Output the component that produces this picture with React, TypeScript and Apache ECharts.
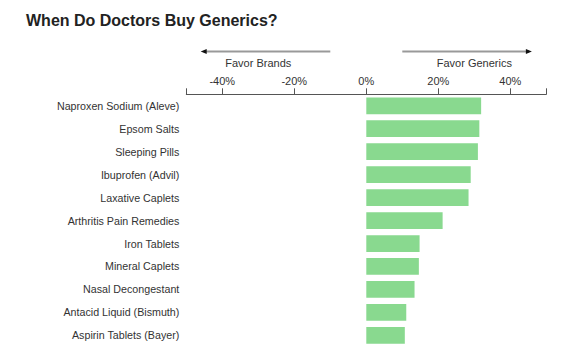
import React, { useEffect, useRef } from "react";
import * as echarts from "echarts";

const title = "When Do Doctors Buy Generics?";
const categories = [
  "Naproxen Sodium (Aleve)",
  "Epsom Salts",
  "Sleeping Pills",
  "Ibuprofen (Advil)",
  "Laxative Caplets",
  "Arthritis Pain Remedies",
  "Iron Tablets",
  "Mineral Caplets",
  "Nasal Decongestant",
  "Antacid Liquid (Bismuth)",
  "Aspirin Tablets (Bayer)",
];
const values = [31.9, 31.4, 31.0, 29.0, 28.4, 21.2, 14.8, 14.6, 13.4, 11.1, 10.7];
const tickValues = [-50, -40, -20, 0, 20, 40, 50];
const labelValues = [-40, -20, 0, 20, 40];
const axisMin = -50;
const axisMax = 50;
const annotations = [
  { text: "Favor Brands", from: -10, to: -46, center: -30 },
  { text: "Favor Generics", from: 10, to: 46, center: 30 },
];

const FONT = "'Liberation Sans', Arial, Helvetica, sans-serif";

export default function App() {
  const ref = useRef<HTMLDivElement>(null);
  useEffect(() => {
    if (!ref.current) return;
    const chart = echarts.init(ref.current, undefined, { renderer: "svg" });
    chart.setOption({
      animation: false,
      backgroundColor: "#ffffff",
      title: {
        text: title,
        left: 26,
        top: 12,
        padding: 0,
        textStyle: { fontFamily: FONT, fontSize: 16, fontWeight: "bold", color: "#222" },
      },
      grid: { left: 186.3, right: 25.7, top: 94.3, bottom: 5.2, containLabel: false },
      xAxis: {
        type: "value",
        position: "top",
        min: axisMin,
        max: axisMax,
        axisLine: { show: true, lineStyle: { color: "#555", width: 1 } },
        axisTick: { show: true, length: 6, customValues: tickValues, lineStyle: { color: "#555" } },
        axisLabel: {
          customValues: labelValues,
          formatter: (v: number) => `${v}%`,
          color: "#333",
          fontFamily: FONT,
          fontSize: 11,
          margin: 8,
        },
        splitLine: { show: false },
      },
      yAxis: {
        type: "category",
        inverse: true,
        data: categories,
        axisLine: { show: false },
        axisTick: { show: false },
        axisLabel: { color: "#333", fontFamily: FONT, fontSize: 10.7, margin: 7 },
        splitLine: { show: false },
      },
      series: [
        {
          type: "bar",
          data: values,
          barCategoryGap: "27%",
          itemStyle: { color: "#89d98f" },
        },
      ],
    });

    const px = (v: number) => chart.convertToPixel({ xAxisIndex: 0 }, v) as number;
    const arrowY = 51.5;
    const graphics: any[] = [];
    annotations.forEach((a) => {
      const x1 = px(a.from);
      const x2 = px(a.to);
      const dir = x2 > x1 ? 1 : -1;
      graphics.push({
        type: "line",
        shape: { x1, y1: arrowY, x2: x2 - dir * 3, y2: arrowY },
        style: { stroke: "#999", lineWidth: 2 },
      });
      graphics.push({
        type: "polygon",
        shape: {
          points: [
            [x2, arrowY],
            [x2 - dir * 6, arrowY - 2.5],
            [x2 - dir * 6, arrowY + 2.5],
          ],
        },
        style: { fill: "#111" },
      });
      graphics.push({
        type: "text",
        x: px(a.center),
        y: 63,
        style: {
          text: a.text,
          align: "center",
          verticalAlign: "middle",
          fontFamily: FONT,
          fontSize: 11,
          fill: "#333",
        },
      });
    });
    chart.setOption({ graphic: graphics });
    return () => chart.dispose();
  }, []);
  return (
    <div
      ref={ref}
      style={{ position: "fixed", left: 0, top: 0, width: 572, height: 352 }}
    />
  );
}
